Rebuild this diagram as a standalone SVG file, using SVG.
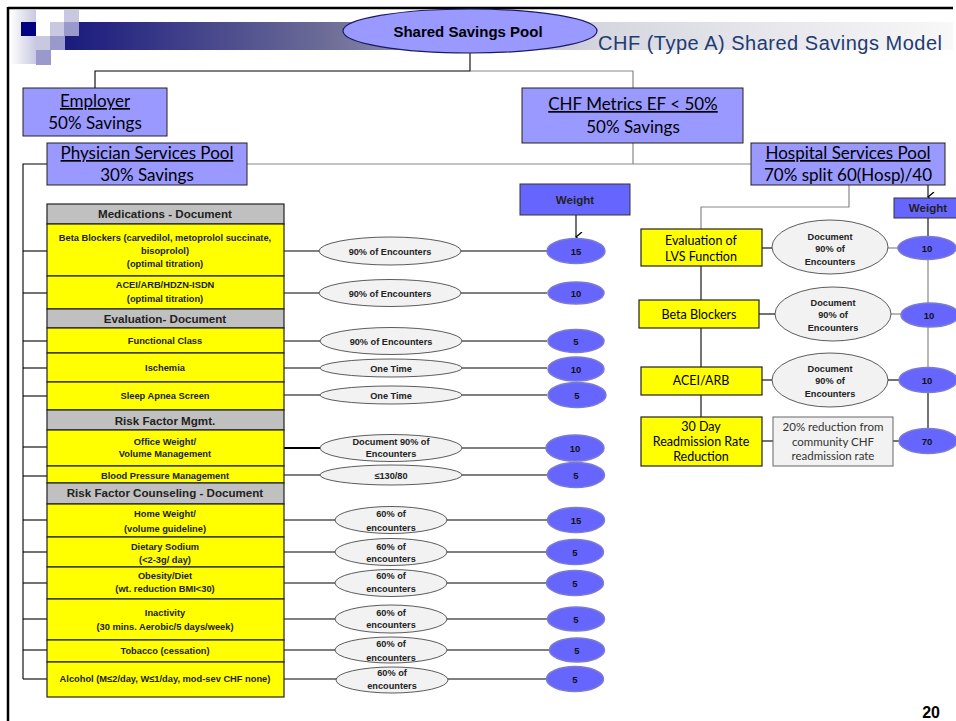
<svg xmlns="http://www.w3.org/2000/svg" width="956" height="721" viewBox="0 0 956 721">
<defs>
<linearGradient id="bar" x1="0" y1="0" x2="1" y2="0">
<stop offset="0" stop-color="#1a1a7e"/>
<stop offset="0.3" stop-color="#6e6e98"/>
<stop offset="0.6" stop-color="#d6d6e0"/>
<stop offset="1" stop-color="#f8f8f8"/>
</linearGradient>
<linearGradient id="fade" x1="0" y1="0" x2="1" y2="0">
<stop offset="0" stop-color="#ffffff"/>
<stop offset="1" stop-color="#c8c8e2"/>
</linearGradient>
<marker id="ah" viewBox="0 0 10 10" refX="5" refY="9" markerWidth="10" markerHeight="10" markerUnits="userSpaceOnUse" orient="auto-start-reverse">
<path d="M0,3 L5,9 L10,3" fill="none" stroke="#000" stroke-width="1.3"/>
</marker>
<style>
.blue{fill:#9999ff;stroke:#222;stroke-width:1}
.yel{fill:#ffff00;stroke:#222;stroke-width:1.2}
.hdr{fill:#c0c0c0;stroke:#222;stroke-width:1.2}
.oval{fill:#f2f2f2;stroke:#333;stroke-width:0.8}
.wt{fill:#6666ff;stroke:#7b7bd0;stroke-width:1.5}
.wbox{fill:#6666ff;stroke:#333;stroke-width:1}
.gbox{fill:#f2f2f2;stroke:#666;stroke-width:1}
.c{stroke:#000;stroke-width:1.1;fill:none}
.g{stroke:#888;stroke-width:1.2;fill:none}
text{font-family:Lato,"Liberation Sans",sans-serif;text-anchor:middle;fill:#000}
.big{font-size:17px}
.u{text-decoration:underline}
.hd{font-family:"Liberation Sans",Arial,sans-serif;font-size:11.6px;font-weight:bold;fill:#222}
.sm{font-family:"Liberation Sans",Arial,sans-serif;font-size:9.3px;font-weight:bold;fill:#222}
.ov{font-family:"Liberation Sans",Arial,sans-serif;font-size:9.2px;font-weight:bold;fill:#222}
.num{font-family:"Liberation Sans",Arial,sans-serif;font-size:9.5px;font-weight:bold;fill:#111}
.hy{font-size:12.5px}
</style>
</defs>
<rect width="956" height="721" fill="#fff"/>

<g id="header">
<rect x="65" y="22" width="888" height="28" fill="url(#bar)"/>
<rect x="10" y="10" width="26" height="54" fill="url(#fade)"/>
<rect x="21" y="22" width="15" height="14" fill="#000080"/>
<rect x="36" y="36" width="14" height="14" fill="#c8c8e0"/>
<rect x="50" y="36" width="15" height="14" fill="#9999cc"/>
<rect x="36" y="50" width="15" height="15" fill="#9999cc"/>
<rect x="50" y="22" width="15" height="14" fill="#c8c8e0"/>
<rect x="64" y="10" width="15" height="12" fill="#c8c8e0"/>
<rect x="64" y="22" width="15" height="14" fill="#9999cc"/>
<line x1="8" y1="8" x2="953" y2="8" stroke="#000" stroke-width="2.5"/>
<line x1="8" y1="7" x2="8" y2="721" stroke="#000" stroke-width="2.5"/>
<text x="598" y="50" style="font-family:'Liberation Sans',Arial,sans-serif;font-size:20px;text-anchor:start;fill:#1f3b73" textLength="344" lengthAdjust="spacing">CHF (Type A) Shared Savings Model</text>
<text x="940" y="718" style="font-family:'Liberation Sans',Arial,sans-serif;font-size:16px;font-weight:bold;text-anchor:end">20</text>
</g>

<g id="connectors">
<polyline class="c" points="470,53 470,71 95,71 95,88"/>
<polyline class="g" points="470,71 633,71 633,88"/>
<polyline class="g" points="633,143 633,164"/>
<line class="g" x1="247" y1="164" x2="751" y2="164"/>
<polyline class="c" points="47,164 23,164 23,679" stroke-width="2"/>
<g class="c">
<line x1="23" y1="251" x2="47" y2="251"/><line x1="23" y1="293" x2="47" y2="293"/>
<line x1="23" y1="341" x2="47" y2="341"/><line x1="23" y1="368" x2="47" y2="368"/>
<line x1="23" y1="396" x2="47" y2="396"/><line x1="23" y1="447" x2="47" y2="447"/>
<line x1="23" y1="476" x2="47" y2="476"/><line x1="23" y1="520" x2="47" y2="520"/>
<line x1="23" y1="552" x2="47" y2="552"/><line x1="23" y1="583" x2="47" y2="583"/>
<line x1="23" y1="619" x2="47" y2="619"/><line x1="23" y1="650" x2="47" y2="650"/>
<line x1="23" y1="679" x2="47" y2="679"/>
<line x1="284" y1="251" x2="319" y2="251"/><line x1="461" y1="251" x2="547" y2="251"/>
<line x1="284" y1="293" x2="319" y2="293"/><line x1="461" y1="293" x2="547" y2="293"/>
<line x1="284" y1="341" x2="320" y2="341"/><line x1="462" y1="341" x2="547" y2="341"/>
<line x1="284" y1="368" x2="320" y2="368"/><line x1="462" y1="368" x2="547" y2="368"/>
<line x1="284" y1="395" x2="320" y2="395"/><line x1="462" y1="395" x2="547" y2="395"/>
<line x1="284" y1="448" x2="320" y2="448" stroke-width="2"/><line x1="462" y1="448" x2="547" y2="448"/>
<line x1="284" y1="475" x2="320" y2="475"/><line x1="462" y1="475" x2="547" y2="475"/>
<line x1="284" y1="520" x2="335" y2="520"/><line x1="447" y1="520" x2="547" y2="520"/>
<line x1="284" y1="552" x2="335" y2="552"/><line x1="447" y1="552" x2="547" y2="552"/>
<line x1="284" y1="583" x2="335" y2="583"/><line x1="447" y1="583" x2="547" y2="583"/>
<line x1="284" y1="619" x2="335" y2="619"/><line x1="447" y1="619" x2="547" y2="619"/>
<line x1="284" y1="650" x2="335" y2="650"/><line x1="447" y1="650" x2="550" y2="650"/>
<line x1="284" y1="679" x2="337" y2="679"/><line x1="448" y1="679" x2="547" y2="679"/>
</g>
<line class="c" x1="576" y1="215" x2="576" y2="237" marker-end="url(#ah)"/>
<line class="c" x1="928" y1="185" x2="928" y2="197" marker-end="url(#ah)"/>
<polyline class="g" points="849,185 849,207 701,207 701,229"/>
<line class="c" x1="701" y1="266" x2="701" y2="417"/>
<line class="c" x1="928" y1="218" x2="928" y2="237" stroke-width="2"/>
<line class="g" x1="928" y1="259" x2="928" y2="369"/>
<line class="c" x1="928" y1="392" x2="928" y2="430"/>
<line class="c" x1="762" y1="248" x2="772" y2="248"/><line class="g" x1="888" y1="248" x2="898" y2="248"/>
<line class="c" x1="759" y1="314" x2="775" y2="314"/><line class="g" x1="891" y1="314" x2="901" y2="314"/>
<line class="c" x1="762" y1="380" x2="772" y2="380"/><line class="c" x1="888" y1="380" x2="899" y2="380"/>
<line class="c" x1="762" y1="441" x2="773" y2="441"/><line class="c" x1="893" y1="441" x2="899" y2="441"/>
</g>

<g id="pool">
<ellipse cx="470" cy="31" rx="127" ry="22" fill="#9999ff" stroke="#1a1a60" stroke-width="1.2"/>
<text x="468" y="37" style="font-family:'Liberation Sans',Arial,sans-serif;font-size:15px;font-weight:bold">Shared Savings Pool</text>
</g>
<g id="employer">
<rect class="blue" x="23" y="88" width="144" height="48"/>
<text class="big u" x="95" y="107">Employer</text>
<text class="big" x="95" y="129">50% Savings</text>
</g>
<g id="chf-metrics">
<rect class="blue" x="522" y="88" width="221" height="55"/>
<text class="big u" x="633" y="110">CHF Metrics EF &lt; 50%</text>
<text class="big" x="633" y="133">50% Savings</text>
</g>
<g id="physician">
<rect class="blue" x="47" y="143" width="200" height="42"/>
<text class="big u" x="147" y="159">Physician Services Pool</text>
<text class="big" x="147" y="181">30% Savings</text>
</g>
<g id="hospital">
<rect class="blue" x="751" y="143" width="194" height="42"/>
<text class="big u" x="848" y="159">Hospital Services Pool</text>
<text class="big" x="848" y="181">70% split 60(Hosp)/40</text>
</g>

<g id="weight-left">
<rect class="wbox" x="520" y="184" width="110" height="31"/>
<text class="hd" x="575" y="204">Weight</text>
</g>
<g id="weight-right">
<rect class="wbox" x="894" y="198" width="70" height="20"/>
<text class="hd" x="928" y="212">Weight</text>
</g>

<g id="table">
<g id="t-med-hdr"><rect class="hdr" x="47" y="204" width="237" height="20"/><text class="hd" x="165" y="218">Medications - Document</text></g>
<g id="t-beta"><rect class="yel" x="47" y="224" width="237" height="52"/><text class="sm" x="165" y="241">Beta Blockers (carvedilol, metoprolol succinate,</text><text class="sm" x="165" y="254">bisoprolol)</text><text class="sm" x="165" y="267">(optimal titration)</text></g>
<g id="t-acei"><rect class="yel" x="47" y="276" width="237" height="33"/><text class="sm" x="165" y="288">ACEI/ARB/HDZN-ISDN</text><text class="sm" x="165" y="302">(optimal titration)</text></g>
<g id="t-eval-hdr"><rect class="hdr" x="47" y="309" width="237" height="19"/><text class="hd" x="165" y="323">Evaluation- Document</text></g>
<g id="t-func"><rect class="yel" x="47" y="328" width="237" height="25"/><text class="sm" x="165" y="344">Functional Class</text></g>
<g id="t-isch"><rect class="yel" x="47" y="353" width="237" height="29"/><text class="sm" x="165" y="371">Ischemia</text></g>
<g id="t-sleep"><rect class="yel" x="47" y="382" width="237" height="28"/><text class="sm" x="165" y="399">Sleep Apnea Screen</text></g>
<g id="t-rf-hdr"><rect class="hdr" x="47" y="410" width="237" height="20"/><text class="hd" x="165" y="425">Risk Factor Mgmt.</text></g>
<g id="t-office"><rect class="yel" x="47" y="430" width="237" height="36"/><text class="sm" x="165" y="445">Office Weight/</text><text class="sm" x="165" y="457">Volume Management</text></g>
<g id="t-bp"><rect class="yel" x="47" y="466" width="237" height="17"/><text class="sm" x="165" y="479">Blood Pressure Management</text></g>
<g id="t-rfc-hdr"><rect class="hdr" x="47" y="483" width="237" height="21"/><text class="hd" x="165" y="497">Risk Factor Counseling - Document</text></g>
<g id="t-home"><rect class="yel" x="47" y="504" width="237" height="33"/><text class="sm" x="165" y="517">Home Weight/</text><text class="sm" x="165" y="532">(volume guideline)</text></g>
<g id="t-sodium"><rect class="yel" x="47" y="537" width="237" height="30"/><text class="sm" x="165" y="550">Dietary Sodium</text><text class="sm" x="165" y="563">(&lt;2-3g/ day)</text></g>
<g id="t-obesity"><rect class="yel" x="47" y="567" width="237" height="32"/><text class="sm" x="165" y="579">Obesity/Diet</text><text class="sm" x="165" y="592">(wt. reduction BMI&lt;30)</text></g>
<g id="t-inact"><rect class="yel" x="47" y="599" width="237" height="41"/><text class="sm" x="165" y="616">Inactivity</text><text class="sm" x="165" y="630">(30 mins. Aerobic/5 days/week)</text></g>
<g id="t-tobacco"><rect class="yel" x="47" y="640" width="237" height="22"/><text class="sm" x="165" y="654">Tobacco (cessation)</text></g>
<g id="t-alcohol"><rect class="yel" x="47" y="662" width="237" height="35"/><text class="sm" x="165" y="682">Alcohol (M≤2/day, W≤1/day, mod-sev CHF none)</text></g>
</g>

<g id="criteria">
<g id="o1"><ellipse class="oval" cx="390" cy="251" rx="71" ry="14"/><text class="ov" x="390" y="254.5">90% of Encounters</text></g>
<g id="o2"><ellipse class="oval" cx="390" cy="293" rx="71" ry="13.5"/><text class="ov" x="390" y="296.5">90% of Encounters</text></g>
<g id="o3"><ellipse class="oval" cx="391" cy="341" rx="71" ry="13.5"/><text class="ov" x="391" y="344.5">90% of Encounters</text></g>
<g id="o4"><ellipse class="oval" cx="391" cy="368" rx="71" ry="9"/><text class="ov" x="391" y="371.5">One Time</text></g>
<g id="o5"><ellipse class="oval" cx="391" cy="395" rx="71" ry="9"/><text class="ov" x="391" y="398.5">One Time</text></g>
<g id="o6"><ellipse class="oval" cx="391" cy="448" rx="71" ry="13.5"/><text class="ov" x="391" y="445">Document 90% of</text><text class="ov" x="391" y="457">Encounters</text></g>
<g id="o7"><ellipse class="oval" cx="391" cy="475" rx="71" ry="10"/><text class="ov" x="391" y="478.5">≤130/80</text></g>
<g id="o8"><ellipse class="oval" cx="391" cy="520" rx="56" ry="13.5"/><text class="ov" x="391" y="517">60% of</text><text class="ov" x="391" y="531">encounters</text></g>
<g id="o9"><ellipse class="oval" cx="391" cy="552" rx="56" ry="13.5"/><text class="ov" x="391" y="550">60% of</text><text class="ov" x="391" y="562">encounters</text></g>
<g id="o10"><ellipse class="oval" cx="391" cy="583" rx="56" ry="13.5"/><text class="ov" x="391" y="579">60% of</text><text class="ov" x="391" y="592">encounters</text></g>
<g id="o11"><ellipse class="oval" cx="391" cy="619" rx="56" ry="14"/><text class="ov" x="391" y="616">60% of</text><text class="ov" x="391" y="628">encounters</text></g>
<g id="o12"><ellipse class="oval" cx="391" cy="650" rx="56" ry="13"/><text class="ov" x="391" y="647">60% of</text><text class="ov" x="391" y="661">encounters</text></g>
<g id="o13"><ellipse class="oval" cx="392" cy="680" rx="56" ry="13"/><text class="ov" x="392" y="676">60% of</text><text class="ov" x="392" y="689">encounters</text></g>
</g>

<g id="weights-left">
<g id="w1"><ellipse class="wt" cx="576" cy="251" rx="29" ry="12.5"/><text class="num" x="576" y="254.5">15</text></g>
<g id="w2"><ellipse class="wt" cx="576" cy="293" rx="28" ry="11"/><text class="num" x="576" y="296.5">10</text></g>
<g id="w3"><ellipse class="wt" cx="576" cy="341" rx="28" ry="11.5"/><text class="num" x="576" y="344.5">5</text></g>
<g id="w4"><ellipse class="wt" cx="576" cy="369" rx="28" ry="12"/><text class="num" x="576" y="372.5">10</text></g>
<g id="w5"><ellipse class="wt" cx="577" cy="395" rx="29" ry="12.5"/><text class="num" x="577" y="398.5">5</text></g>
<g id="w6"><ellipse class="wt" cx="575" cy="448" rx="29" ry="13"/><text class="num" x="575" y="451.5">10</text></g>
<g id="w7"><ellipse class="wt" cx="576" cy="475" rx="28.5" ry="12.5"/><text class="num" x="576" y="478.5">5</text></g>
<g id="w8"><ellipse class="wt" cx="576" cy="520" rx="28.5" ry="12.5"/><text class="num" x="576" y="523.5">15</text></g>
<g id="w9"><ellipse class="wt" cx="575" cy="552" rx="28.5" ry="12.5"/><text class="num" x="575" y="555.5">5</text></g>
<g id="w10"><ellipse class="wt" cx="575" cy="583" rx="28.5" ry="12.5"/><text class="num" x="575" y="586.5">5</text></g>
<g id="w11"><ellipse class="wt" cx="576" cy="619" rx="28.5" ry="12"/><text class="num" x="576" y="622.5">5</text></g>
<g id="w12"><ellipse class="wt" cx="577" cy="650" rx="27.5" ry="12"/><text class="num" x="577" y="653.5">5</text></g>
<g id="w13"><ellipse class="wt" cx="575" cy="679" rx="28.5" ry="12.5"/><text class="num" x="575" y="682.5">5</text></g>
</g>

<g id="hospital-metrics">
<g id="h-lvs"><rect class="yel" x="641" y="229" width="121" height="37"/><text class="hy" x="701" y="245">Evaluation of</text><text class="hy" x="701" y="261">LVS Function</text></g>
<g id="h-beta"><rect class="yel" x="639" y="300" width="120" height="28"/><text class="hy" x="699" y="319">Beta Blockers</text></g>
<g id="h-acei"><rect class="yel" x="641" y="367" width="121" height="28"/><text class="hy" x="701" y="385">ACEI/ARB</text></g>
<g id="h-30day"><rect class="yel" x="641" y="417" width="121" height="49"/><text class="hy" x="701" y="431">30 Day</text><text class="hy" x="701" y="446">Readmission Rate</text><text class="hy" x="701" y="461">Reduction</text></g>
<g id="h-o1"><ellipse class="oval" cx="830" cy="247" rx="58" ry="27"/><text class="ov" x="830" y="240">Document</text><text class="ov" x="830" y="252">90% of</text><text class="ov" x="830" y="265">Encounters</text></g>
<g id="h-o2"><ellipse class="oval" cx="833" cy="314" rx="58" ry="27"/><text class="ov" x="833" y="306">Document</text><text class="ov" x="833" y="318">90% of</text><text class="ov" x="833" y="331">Encounters</text></g>
<g id="h-o3"><ellipse class="oval" cx="830" cy="380" rx="58" ry="27"/><text class="ov" x="830" y="372">Document</text><text class="ov" x="830" y="384">90% of</text><text class="ov" x="830" y="397">Encounters</text></g>
<g id="h-reduction"><rect class="gbox" x="773" y="417" width="120" height="49"/><text x="833" y="431" style="font-size:11.5px;fill:#333">20% reduction from</text><text x="833" y="446" style="font-size:11.5px;fill:#333">community CHF</text><text x="833" y="460" style="font-size:11.5px;fill:#333">readmission rate</text></g>
<g id="h-w1"><ellipse class="wt" cx="927" cy="248" rx="29" ry="11.5"/><text class="num" x="927" y="251.5">10</text></g>
<g id="h-w2"><ellipse class="wt" cx="930" cy="315" rx="29" ry="12"/><text class="num" x="929" y="318.5">10</text></g>
<g id="h-w3"><ellipse class="wt" cx="928" cy="380" rx="29" ry="12.5"/><text class="num" x="927" y="383.5">10</text></g>
<g id="h-w4"><ellipse class="wt" cx="928" cy="441" rx="29" ry="12.5"/><text class="num" x="927" y="444.5">70</text></g>
</g>
</svg>
